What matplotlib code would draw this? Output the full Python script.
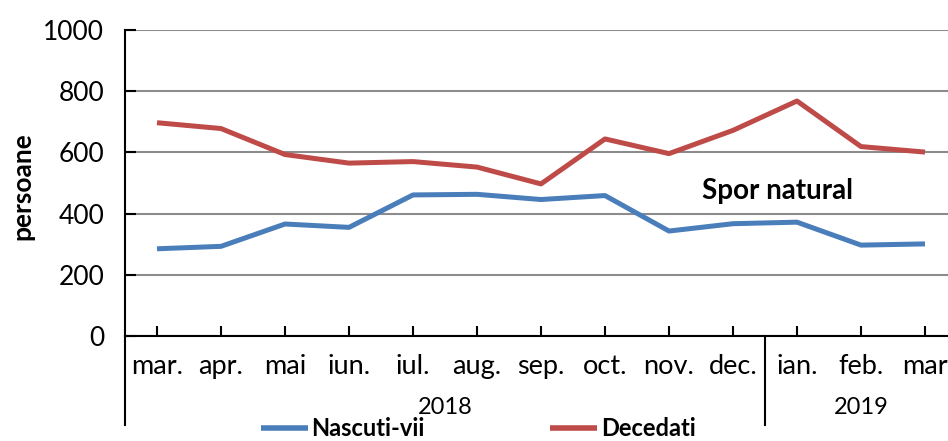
import matplotlib
matplotlib.use("Agg")
import matplotlib.pyplot as plt
import numpy as np

plt.rcParams['font.family'] = ['Lato', 'DejaVu Sans']

# Data
months = ["mar.", "apr.", "mai", "iun.", "iul.", "aug.", "sep.", "oct.",
          "nov.", "dec.", "ian.", "feb.", "mar"]
years = ["2018", "2019"]
year_counts = [10, 3]
nascuti_vii = [285, 293, 366, 355, 461, 463, 446, 459, 343, 367, 372, 297, 301]
decedati = [697, 678, 593, 565, 570, 552, 497, 644, 596, 672, 768, 619, 601]

blue = "#4a7ebb"
red = "#be4b48"
grid_col = "#8c8c8c"

fig = plt.figure(figsize=(9.48, 4.41), dpi=100)
ax = fig.add_axes([125 / 948, 105 / 441, 832 / 948, 306 / 441])

x = np.arange(len(months))
ax.plot(x, nascuti_vii, color=blue, lw=3.6, label="Nascuti-vii", solid_capstyle="butt")
ax.plot(x, decedati, color=red, lw=3.6, label="Decedati", solid_capstyle="butt")

ax.set_xlim(-0.5, len(months) - 0.5)
ax.set_ylim(0, 1000)
ax.set_yticks(np.arange(0, 1001, 200))
ax.yaxis.grid(True, color=grid_col, lw=1.5)
ax.set_axisbelow(True)
ax.tick_params(axis="y", direction="in", length=8, width=1.5, labelsize=19, pad=15)
ax.set_xticks(x)
ax.set_xticklabels(months)
ax.tick_params(axis="x", direction="in", length=7, width=1.5, labelsize=19.5, pad=13)

for s in ["top", "right"]:
    ax.spines[s].set_visible(False)
ax.spines["left"].set_linewidth(1.5)
ax.spines["bottom"].set_linewidth(1.5)

ax.set_ylabel("persoane", fontsize=19, fontweight="bold", va="center")
ax.yaxis.set_label_coords(-(125 - 22) / 832, 0.49)

# second level of category axis (years)
tr = ax.get_xaxis_transform()
ext = -(425 - 336) / 306
ax.plot([-0.5, -0.5], [0, ext], color="black", lw=1.5, transform=tr, clip_on=False)
start = -0.5
for yr, n in zip(years, year_counts):
    end = start + n
    ax.text((start + end) / 2, -(408 - 336) / 306, yr, transform=tr,
            ha="center", va="center", fontsize=17)
    if end < len(months) - 0.5:
        ax.plot([end, end], [0, ext], color="black", lw=1.5, transform=tr, clip_on=False)
    start = end

ax.text(9.69, 475, "Spor natural", fontsize=20, fontweight="bold",
        ha="center", va="center")

leg = fig.legend(loc="center", bbox_to_anchor=(478 / 948, 1 - 429 / 441), ncol=2,
                 frameon=False, prop={"weight": "bold", "size": 17},
                 handlelength=2.0, handletextpad=0.15, columnspacing=5.3,
                 borderpad=0, borderaxespad=0)
for line in leg.get_lines():
    line.set_linewidth(4)

fig.savefig("out.png", dpi=100)
